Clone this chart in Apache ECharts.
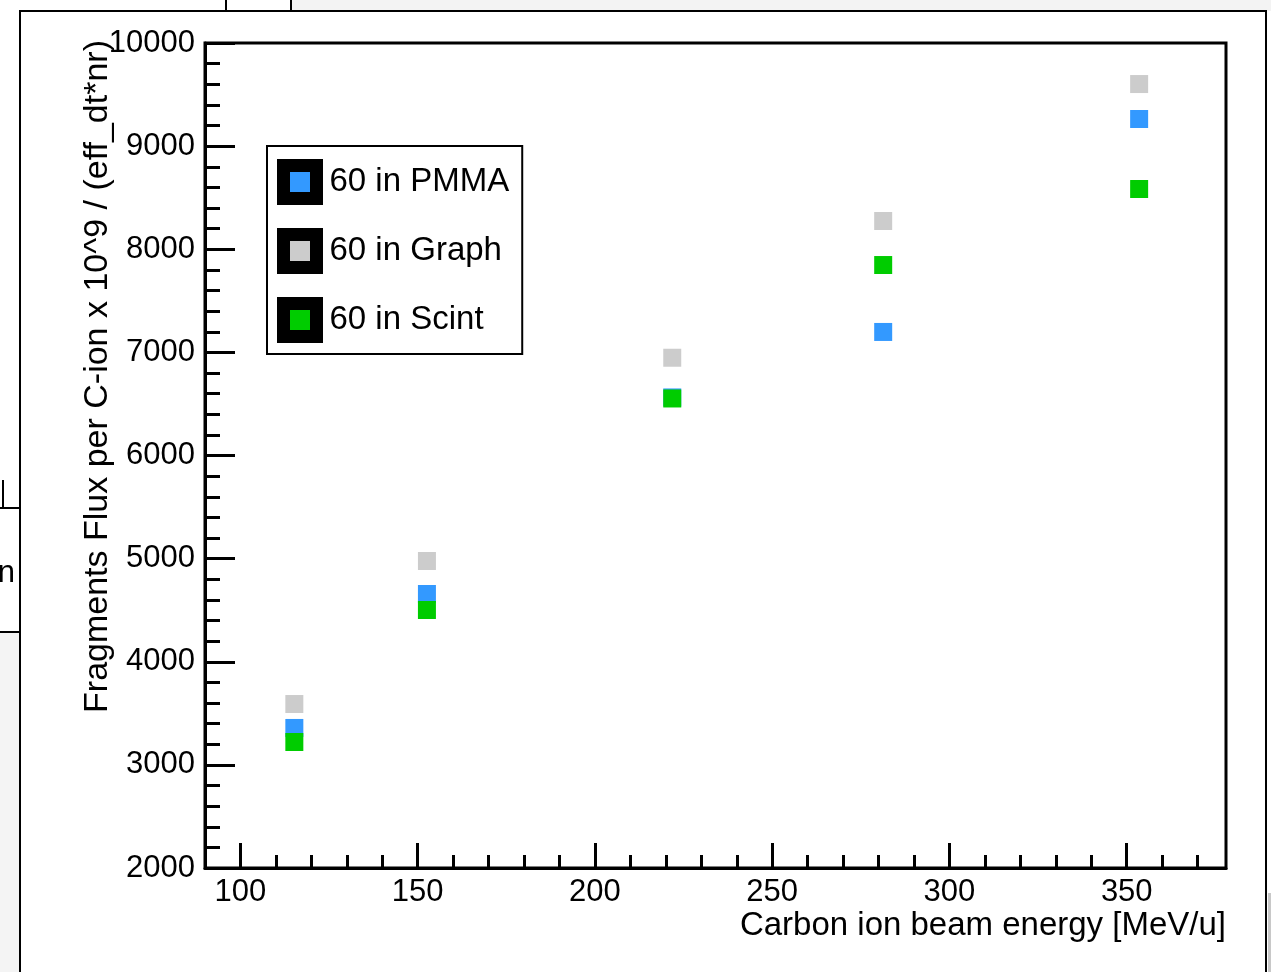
<!DOCTYPE html>
<html>
<head>
<meta charset="utf-8">
<script src="https://cdn.jsdelivr.net/npm/echarts@6/dist/echarts.min.js"></script>
<style>
html,body{margin:0;padding:0;background:#fff;}
#chart{width:1271px;height:972px;}
</style>
</head>
<body>
<div id="chart"></div>
<script>
// ---- data ----
const energies = [115.2, 152.6, 221.8, 281.3, 353.5];
const pmma  = [3358, 4657, 6563, 7198, 9263];
const graph = [3590, 4977, 6948, 8274, 9602];
const scint = [3222, 4502, 6553, 7847, 8584];
const seriesNames = ['60 in PMMA', '60 in Graph', '60 in Scint'];
const xMajorTicks = [100, 150, 200, 250, 300, 350];
const xMinorTicks = [100, 110, 120, 130, 140, 150, 160, 170, 180, 190, 200, 210, 220, 230, 240, 250, 260, 270, 280, 290, 300, 310, 320, 330, 340, 350, 360, 370];
const xTitle = 'Carbon ion beam energy [MeV/u]';
const yTitle = 'Fragments Flux per C-ion x 10^9 / (eff_dt*nr)';

const colors = ['#3399ff', '#cccccc', '#00cc00'];
const values = [pmma, graph, scint];
const FONT = '"Liberation Sans", Arial, Helvetica, sans-serif';

const chart = echarts.init(document.getElementById('chart'), null, {renderer: 'canvas'});

const zOrder = [3, 2, 4];
const series = seriesNames.map((name, i) => ({
  name: name,
  type: 'scatter',
  xAxisIndex: 0,
  yAxisIndex: 0,
  symbol: 'rect',
  symbolSize: 18,
  itemStyle: {color: colors[i], opacity: 1},
  emphasis: {disabled: true},
  z: zOrder[i],
  data: energies.map((e, k) => [e, values[i][k]])
}));

const option = {
  animation: false,
  backgroundColor: '#ffffff',
  textStyle: {fontFamily: FONT},
  graphic: [
    {type: 'rect', z: -100, shape: {x: 292, y: 0, width: 979, height: 11}, style: {fill: '#f3f3f3'}},
    {type: 'line', z: -90, shape: {x1: 226, y1: 0, x2: 226, y2: 11}, style: {stroke: '#000', lineWidth: 2}},
    {type: 'line', z: -90, shape: {x1: 291, y1: 0, x2: 291, y2: 11}, style: {stroke: '#000', lineWidth: 2}},
    {type: 'rect', z: -100, shape: {x: 0, y: 632, width: 20, height: 340}, style: {fill: '#f4f4f4'}},
    {type: 'line', z: -90, shape: {x1: 0, y1: 508, x2: 20, y2: 508}, style: {stroke: '#000', lineWidth: 2}},
    {type: 'line', z: -90, shape: {x1: 3, y1: 480, x2: 3, y2: 508}, style: {stroke: '#000', lineWidth: 2}},
    {type: 'line', z: -90, shape: {x1: 0, y1: 632, x2: 20, y2: 632}, style: {stroke: '#000', lineWidth: 2}},
    {type: 'text', z: -90, style: {text: 'n', x: 15, y: 573, fill: '#000', font: '31px ' + FONT, textAlign: 'right', textVerticalAlign: 'middle'}},
    {type: 'rect', z: -100, shape: {x: 1268, y: 893, width: 3, height: 79}, style: {fill: '#c8c8c8'}},
    {type: 'rect', z: -80, shape: {x: 20, y: 11, width: 1246, height: 1000}, style: {fill: '#ffffff', stroke: '#000', lineWidth: 2}}
  ],
  grid: {
    left: 205, top: 43, width: 1021, height: 825,
    show: true, borderColor: '#000', borderWidth: 3, backgroundColor: 'transparent',
    containLabel: false
  },
  legend: {
    orient: 'vertical',
    left: 267, top: 146,
    icon: 'rect',
    itemWidth: 33, itemHeight: 33, itemGap: 23,
    padding: [13, 13, 11, 10],
    backgroundColor: '#ffffff',
    borderColor: '#000', borderWidth: 2,
    selectedMode: false,
    itemStyle: {borderColor: '#000', borderWidth: 13},
    textStyle: {fontSize: 33, lineHeight: 33, color: '#000', fontFamily: FONT, padding: [0, 0, 0, 8]},
    data: seriesNames
  },
  xAxis: [
    {
      type: 'value', min: 90, max: 378, position: 'bottom',
      name: xTitle, nameLocation: 'end', nameGap: 0, nameMoveOverlap: false,
      nameTextStyle: {fontSize: 33, color: '#000', fontFamily: FONT, align: 'right', verticalAlign: 'top', padding: [41, 0, 0, 0]},
      axisLine: {show: true, onZero: false, lineStyle: {color: '#000', width: 3}},
      axisTick: {show: true, inside: true, length: 25, lineStyle: {color: '#000', width: 3}, customValues: xMajorTicks},
      axisLabel: {show: true, fontSize: 31, color: '#000', fontFamily: FONT, margin: 9, customValues: xMajorTicks, showMinLabel: true, showMaxLabel: true},
      splitLine: {show: false}
    },
    {
      type: 'value', min: 90, max: 378, position: 'bottom', offset: 0,
      axisLine: {show: false, onZero: false},
      axisTick: {show: true, inside: true, length: 13, lineStyle: {color: '#000', width: 3}, customValues: xMinorTicks},
      axisLabel: {show: false},
      splitLine: {show: false}
    }
  ],
  yAxis: {
    type: 'value', min: 2000, max: 10000, interval: 1000,
    name: yTitle, nameLocation: 'end', nameGap: 3, nameRotate: 90, nameMoveOverlap: false,
    nameTextStyle: {fontSize: 34, color: '#000', fontFamily: FONT, align: 'right', verticalAlign: 'bottom', padding: [0, 0, 90, 0]},
    axisLine: {show: true, onZero: false, lineStyle: {color: '#000', width: 3}},
    axisTick: {show: true, inside: true, length: 30, lineStyle: {color: '#000', width: 3}},
    minorTick: {show: true, splitNumber: 5, length: 15, lineStyle: {color: '#000', width: 3}},
    axisLabel: {fontSize: 31, color: '#000', fontFamily: FONT, margin: 10, formatter: function (v) { return String(v); }},
    splitLine: {show: false}
  },
  series: series
};
chart.setOption(option);
</script>
</body>
</html>
